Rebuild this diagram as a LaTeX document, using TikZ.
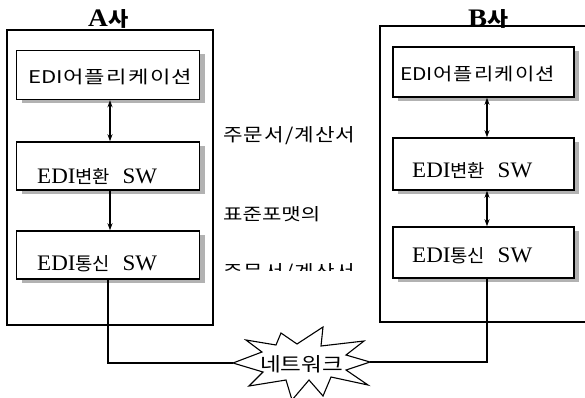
\documentclass[tikz,border=0pt]{standalone}
\usepackage{fontspec}
\usepackage{graphicx}
\setmainfont{Liberation Serif}
\newfontfamily\kr{Noto Sans CJK KR}
\newfontfamily\krA{Noto Sans CJK KR}[LetterSpace=6]
\newfontfamily\krL{Noto Sans CJK KR}[LetterSpace=5]
\newcommand\swtext[1]{\fontsize{22}{24}\selectfont EDI{\kr\fontsize{18}{20}\selectfont #1}\hspace{12pt}SW}
\newcommand\apptext{{\kr\fontsize{18}{20}\selectfont EDI}{\krA\fontsize{18}{20}\selectfont 어플리케이션}}
\usetikzlibrary{shadows,arrows.meta}
\tikzset{
  unitbox/.style={draw, line width=1.5pt, fill=white, rectangle,
    minimum width=183pt, minimum height=49pt, inner sep=0pt,
    drop shadow={fill=gray!60, opacity=1, shadow xshift=5pt, shadow yshift=-4pt}},
  outerbox/.style={draw, line width=1.5pt},
  txt/.style={inner sep=0pt, anchor=base west},
  conn/.style={line width=1.1pt},
  tip/.style={-{Stealth[length=7pt,width=5pt]}},
  tips/.style={{Stealth[length=7pt,width=5pt]}-{Stealth[length=7pt,width=5pt]}}
}
\begin{document}
\begin{tikzpicture}[x=1pt,y=-1pt]
\useasboundingbox (0,0) rectangle (585,398);
\clip (0,0) rectangle (585,398);
% outer company boxes
\draw[outerbox] (7,30) rectangle (213,325);
\draw[outerbox] (380,26) rectangle (610,322);
\node[txt] (ta) at (88,27) {\resizebox{40pt}{17pt}{\bfseries\fontsize{25}{26}\selectfont A{\kr\fontsize{20}{22}\selectfont 사}}};
\node[txt] (tb) at (468,27) {\resizebox{40pt}{17pt}{\bfseries\fontsize{25}{26}\selectfont B{\kr\fontsize{20}{22}\selectfont 사}}};
% A boxes
\node[unitbox, minimum height=49pt] (a1) at (108,75) {};
\node[unitbox, minimum height=48pt] (a2) at (108,166) {};
\node[unitbox, minimum height=48pt] (a3) at (108,255) {};
\node[txt] (a1t) at (28,84) {\resizebox{164pt}{14.5pt}{\apptext}};
\node[txt] (a2t) at (37,183) {\resizebox{120pt}{15pt}{\swtext{변환}}};
\node[txt] (a3t) at (37,270) {\resizebox{120pt}{15pt}{\swtext{통신}}};
% B boxes
\node[unitbox, minimum width=181pt, minimum height=50pt] (b1) at (483.5,72) {};
\node[unitbox, minimum width=181pt, minimum height=52pt] (b2) at (483.5,164) {};
\node[unitbox, minimum width=181pt, minimum height=51pt] (b3) at (483.5,252.5) {};
\node[txt] (b1t) at (400,81) {\resizebox{155pt}{14.5pt}{\apptext}};
\node[txt] (b2t) at (412,177) {\resizebox{120pt}{15pt}{\swtext{변환}}};
\node[txt] (b3t) at (412,262) {\resizebox{120pt}{15pt}{\swtext{통신}}};
% arrows
\coordinate (ax) at (110,0);
\coordinate (bx) at (487,0);
\draw[conn,tips] (a1.south -| ax) -- (a2.north -| ax);
\draw[conn,tip] (a2.south -| ax) -- (a3.north -| ax);
\draw[conn,tips] (b1.south -| bx) -- (b2.north -| bx);
\draw[conn,tips] (b2.south -| bx) -- (b3.north -| bx);
% middle labels
\node[txt] (l1) at (223,141) {\resizebox{132pt}{15pt}{\krL\fontsize{19}{21}\selectfont 주문서/계산서}};
\node[txt] (l2) at (223,220) {\resizebox{97pt}{14pt}{\kr\fontsize{19}{21}\selectfont 표준포맷의}};
\begin{scope}
\clip (215,250) rectangle (380,270.5);
\node[txt] (l3) at (223,278) {\resizebox{132pt}{15pt}{\krL\fontsize{19}{21}\selectfont 주문서/계산서}};
\end{scope}
% network star
\coordinate (netL) at (233,363);
\coordinate (netR) at (370,362);
\draw[line width=1.1pt, fill=white] (netL) -- (262,352) -- (246,340) -- (276,345) -- (281,333)
  -- (297,344) -- (323,327) -- (321,346) -- (364,341) -- (346,355) -- (netR)
  -- (346,370) -- (368,385) -- (331,377) -- (323,396) -- (309,380) -- (292,400)
  -- (286,380) -- (249,386) -- (263,372) -- cycle;
\node[txt] (nett) at (260,371) {\resizebox{83pt}{16pt}{\kr\fontsize{21}{22}\selectfont 네트워크}};
\draw[conn] (a3.south -| 108,0) -- (108,363) -- (netL);
\draw[conn] (netR) -- (487,362) -- (b3.south -| bx);
\end{tikzpicture}
\end{document}
